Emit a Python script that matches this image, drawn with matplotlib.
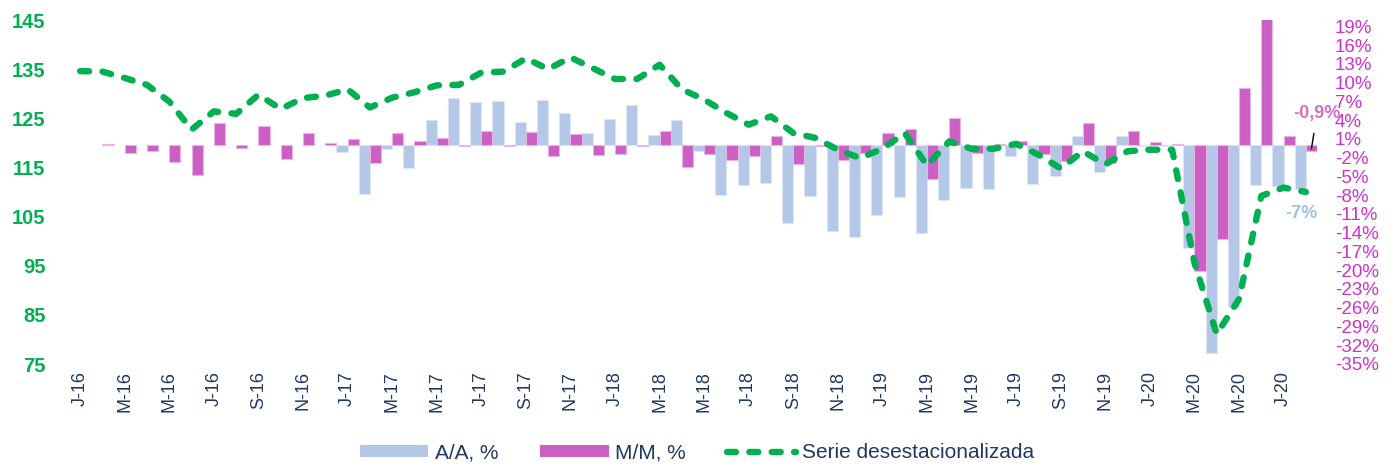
import numpy as np
import matplotlib
matplotlib.use("Agg")
import matplotlib.pyplot as plt
from matplotlib.patches import Patch
from matplotlib.lines import Line2D

plt.rcParams['font.family'] = ['Liberation Sans', 'DejaVu Sans']

# Monthly data Jan-2016 .. Aug-2020
tick_labels = ["J-16", "M-16", "M-16", "J-16", "S-16", "N-16",
               "J-17", "M-17", "M-17", "J-17", "S-17", "N-17",
               "J-18", "M-18", "M-18", "J-18", "S-18", "N-18",
               "J-19", "M-19", "M-19", "J-19", "S-19", "N-19",
               "J-20", "M-20", "M-20", "J-20"]

# Serie desestacionalizada (left axis)
serie = [134.6, 134.5, 133.2, 131.8, 128.4, 122.7, 126.4, 125.9, 129.8, 126.9,
         129.1, 129.6, 130.9, 127.2, 129.2, 130.3, 131.7, 131.8, 134.3, 134.5,
         137.2, 135.0, 137.4, 135.2, 133.0, 133.0, 135.9, 130.9, 128.8, 126.1,
         123.7, 125.4, 122.0, 121.0, 118.6, 116.9, 118.8, 122.0, 115.4, 120.3,
         118.8, 118.8, 119.8, 117.6, 114.8, 118.3, 115.6, 118.3, 118.6, 118.6,
         95.6, 81.1, 88.2, 109.2, 110.9, 110.0]

# M/M, % (right axis)
mm = [np.nan, 0.1, -1.2, -1.0, -2.7, -4.8, 3.5, -0.5, 3.1, -2.2,
      2.0, 0.4, 1.0, -2.9, 2.0, 0.6, 1.2, -0.1, 2.2, -0.1,
      2.1, -1.7, 1.8, -1.6, -1.4, -0.1, 2.2, -3.5, -1.5, -2.4,
      -1.7, 1.4, -3.0, -0.1, -2.4, -1.2, 1.9, 2.6, -5.4, 4.3,
      -1.2, 0.2, 0.7, -1.5, -2.6, 3.6, -2.9, 2.3, 0.5, 0.2,
      -20.2, -15.0, 9.2, 20.5, 1.4, -0.9]

# A/A, % (right axis)
aa = [np.nan] * 12 + [
      -1.1, -7.8, -0.7, -3.7, 4.0, 7.6, 6.9, 7.0, 3.7, 7.2,
      5.1, 1.9, 4.1, 6.4, 1.6, 4.0, -1.0, -7.9, -6.4, -6.0,
      -12.5, -8.2, -13.8, -14.7, -11.1, -8.3, -14.0, -8.8, -6.8, -7.1,
      -1.7, -6.3, -5.0, 1.4, -4.3, 1.4, -0.1, -0.1, -16.5, -33.2,
      -25.9, -6.4, -6.5, -7.0]

BLUE = '#B4C7E7'
MAG = '#CB5FC3'
GREEN = '#00B050'
NAVY = '#1F3864'

x = np.arange(len(serie))

fig = plt.figure(figsize=(13.94, 4.66), dpi=100)
ax1 = fig.add_axes([69 / 1394, 1 - 364 / 466, (1317 - 69) / 1394, (364 - 20) / 466])
ax2 = ax1.twinx()

# bars on the right axis, line on top
ax2.bar(x - 0.25, aa, width=0.5, color=BLUE, edgecolor='#DCE5F4', linewidth=0.8)
ax2.bar(x + 0.25, mm, width=0.5, color=MAG, edgecolor='#E8B5E4', linewidth=0.8)
ax1.plot(x, serie, color=GREEN, lw=4.6, dashes=(1.4, 2.1),
         dash_capstyle='round', solid_capstyle='round')
ax1.set_zorder(ax2.get_zorder() + 1)
ax1.patch.set_visible(False)

ax1.set_xlim(-0.5, len(serie) - 0.5)
ax1.set_ylim(75, 145)
ax1.set_yticks(np.arange(75, 146, 10))
ax2.set_ylim(-35, 20)
ax2.set_yticks(np.arange(-35, 20, 3))
ax2.set_yticklabels([f"{v}%" for v in np.arange(-35, 20, 3)])

ax1.set_xticks(x[::2])
ax1.set_xticklabels(tick_labels, rotation=90, fontsize=13, color=NAVY)

for a in (ax1, ax2):
    for s in a.spines.values():
        s.set_visible(False)
    a.tick_params(length=0)

ax1.tick_params(axis='y', labelsize=14.5, labelcolor=GREEN, pad=17)
for t in ax1.get_yticklabels():
    t.set_fontweight('bold')
ax1.tick_params(axis='x', pad=5)
ax2.tick_params(axis='y', labelsize=13.5, labelcolor='#CC33CC', pad=13)

# value labels for the last month
ax2.annotate("-0,9%", xy=(55.25, -0.6), xytext=(55.5, 5.0),
             ha='center', va='center', fontsize=13, fontweight='bold', color='#D070CC',
             arrowprops=dict(arrowstyle='-', color='black', lw=1, shrinkA=6, shrinkB=0))
ax2.text(54.8, -10.9, "-7%", ha='center', va='center', fontsize=13,
         fontweight='bold', color='#9DC3E6')

handles = [Patch(facecolor=BLUE, edgecolor='none'),
           Patch(facecolor=MAG, edgecolor='none'),
           Line2D([], [], color=GREEN, lw=4.6, dashes=(1.4, 2.1), dash_capstyle='round')]
fig.legend(handles, ["A/A, %", "M/M, %", "Serie desestacionalizada"],
           loc='center', bbox_to_anchor=(0.5, 1 - 453 / 466), ncol=3, frameon=False,
           fontsize=15, labelcolor=NAVY, handlelength=3.3, handleheight=0.5,
           columnspacing=2.0, handletextpad=0.3)

fig.savefig("out.png", dpi=100)
